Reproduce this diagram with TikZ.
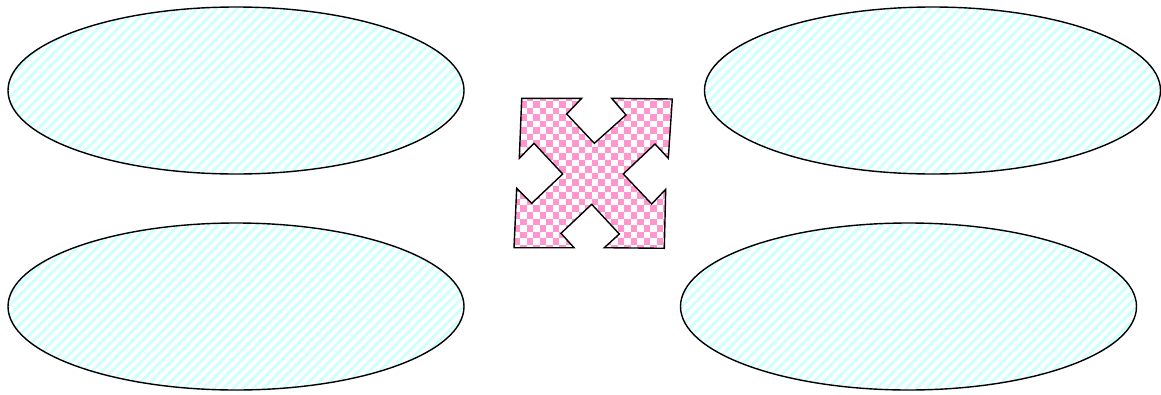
\documentclass[tikz,border=0pt]{standalone}
\usepackage{tikz}
\usetikzlibrary{shapes.geometric, patterns, patterns.meta}
\definecolor{blobcyan}{RGB}{208, 255, 255}
\definecolor{movepink}{RGB}{255, 150, 205}

\tikzdeclarepattern{
  name=bigchecker,
  type=uncolored,
  bottom left={(-.1pt,-.1pt)},
  top right={(13.1pt,13.1pt)},
  tile size={(13pt,13pt)},
  code={
    \fill (0pt,0pt) rectangle (6.5pt,6.5pt);
    \fill (6.5pt,6.5pt) rectangle (13pt,13pt);
  }
}

\begin{document}
\begin{tikzpicture}[x=1pt, y=-1pt,
    blob/.style={ellipse, draw=black, line width=1.4pt, inner sep=0pt,
      minimum width=456pt, minimum height=167pt,
      pattern={Lines[angle=45, distance=7pt, line width=3pt]},
      pattern color=blobcyan},
    movecross/.style={draw=black, line width=1.4pt, line join=miter,
      pattern=bigchecker, pattern color=movepink},
  ]
    \useasboundingbox (0,0) rectangle (1161,394);

    \node[blob] (topleft) at (236,90.5) {};
    \node[blob] (bottomleft) at (236,306.5) {};
    \node[blob] (topright) at (932.5,90.5) {};
    \node[blob] (bottomright) at (908.5,306.5) {};

    % four-way move arrows in the middle
    \draw[movecross] (521.7,98.3) -- (581.7,98.3) -- (566.7,114) -- (594.3,143.3)
      -- (626,115) -- (611.7,98.3) -- (672.3,99) -- (668.3,158.3) -- (655,144)
      -- (623.3,174) -- (651.7,204) -- (665.7,189.3) -- (664.3,248.3)
      -- (604.3,247.7) -- (619.3,234) -- (591.7,204.3) -- (561,233.3)
      -- (574,247.7) -- (514,247.7) -- (516.7,188.3) -- (531.7,203.3)
      -- (562.7,174) -- (534,143.3) -- (519.3,158.3) -- cycle;
  \end{tikzpicture}
\end{document}
